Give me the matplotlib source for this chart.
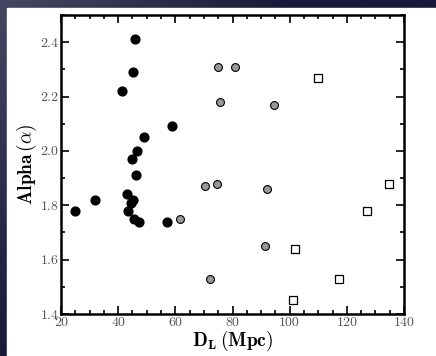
import numpy as np
import matplotlib.pyplot as plt
from matplotlib.ticker import MultipleLocator

# black filled circles
blk_x = [46.0, 45.1, 41.5, 58.9, 48.9, 46.5, 44.8, 46.1, 24.9, 32.0, 43.1,
         45.2, 44.4, 43.3, 45.7, 47.3, 57.2]
blk_y = [2.41, 2.29, 2.22, 2.09, 2.05, 2.00, 1.97, 1.91, 1.78, 1.82, 1.84,
         1.82, 1.81, 1.78, 1.75, 1.74, 1.74]

# grey circles
gry_x = [75.0, 80.9, 75.6, 94.6, 70.4, 74.5, 92.0, 61.7, 91.5, 72.1]
gry_y = [2.31, 2.31, 2.18, 2.17, 1.87, 1.88, 1.86, 1.75, 1.65, 1.53]

# open squares
sq_x = [110.0, 134.9, 127.0, 101.9, 117.1, 101.1]
sq_y = [2.27, 1.88, 1.78, 1.64, 1.53, 1.45]

plt.rcParams['font.family'] = 'serif'
plt.rcParams['font.serif'] = ['cmr10']
plt.rcParams['mathtext.fontset'] = 'cm'
plt.rcParams['axes.formatter.use_mathtext'] = True

fig = plt.figure(figsize=(4.36, 3.56), dpi=100)

# dark slide-like background with gradient
bg = fig.add_axes([0, 0, 1, 1])
gx = np.linspace(0, 1, 200)
gy = np.linspace(0, 1, 200)
GX, GY = np.meshgrid(gx, gy)
t = np.clip(1.0 - GX * 1.5, 0, 1) * GY
c0 = np.array([0x1a, 0x18, 0x38]) / 255
c1 = np.array([0x44, 0x47, 0x62]) / 255
img = c0[None, None, :] * (1 - t[..., None]) + c1[None, None, :] * t[..., None]
bg.imshow(img, extent=[0, 1, 0, 1], aspect='auto', origin='lower')
bg.add_patch(plt.Rectangle((7 / 436, 0), 1, 1 - 8 / 356, color='white'))
bg.set_xlim(0, 1)
bg.set_ylim(0, 1)
bg.axis('off')

ax = fig.add_axes([61 / 436, 1 - 314 / 356, 343 / 436, 299 / 356])
ax.scatter(blk_x, blk_y, s=40, c='black', edgecolors='black', zorder=3)
ax.scatter(gry_x, gry_y, s=32, c='#999999', edgecolors='black',
           linewidths=0.8, zorder=3)
ax.scatter(sq_x, sq_y, s=34, marker='s', facecolors='white',
           edgecolors='black', linewidths=0.9, zorder=3)

ax.set_xlim(20, 140)
ax.set_ylim(1.4, 2.5)
ax.xaxis.set_major_locator(MultipleLocator(20))
ax.xaxis.set_minor_locator(MultipleLocator(5))
ax.yaxis.set_major_locator(MultipleLocator(0.2))
ax.yaxis.set_minor_locator(MultipleLocator(0.1))
ax.xaxis.set_major_formatter(lambda v, p: f'{v:.0f}')
ax.yaxis.set_major_formatter(lambda v, p: f'{v:.1f}')
ax.tick_params(which='both', direction='in', top=True, right=True,
               labelsize=10, width=1.2, colors='black')
ax.tick_params(which='major', length=6, pad=2)
ax.tick_params(which='minor', length=3)
for sp in ax.spines.values():
    sp.set_linewidth(1.8)
for lab in ax.get_xticklabels() + ax.get_yticklabels():
    lab.set_color('#555555')

ax.set_xlabel(r'$\mathbf{D_L\,(Mpc)}$', fontsize=14, labelpad=0)
ax.set_ylabel(r'$\mathbf{Alpha}\,(\alpha)$', fontsize=14, labelpad=1)

fig.savefig('out.png', dpi=100)
